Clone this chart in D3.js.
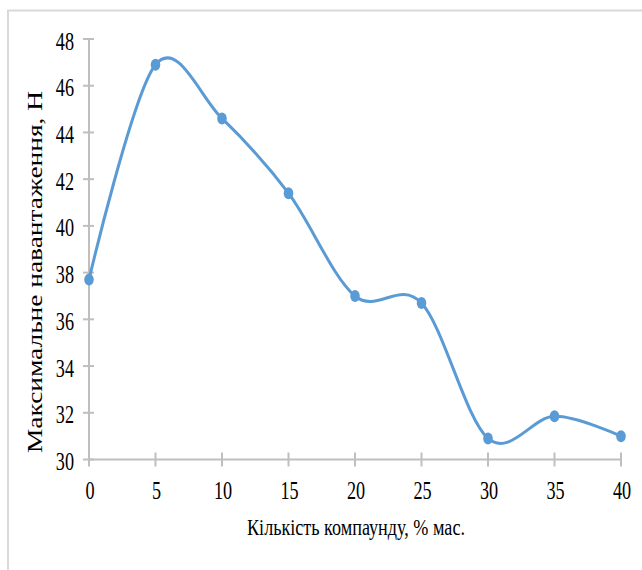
<!DOCTYPE html>
<html>
<head>
<meta charset="utf-8">
<script src="https://cdn.jsdelivr.net/npm/d3@7"></script>
<style>
html,body{margin:0;padding:0;background:#fff;}
svg{display:block;}
text{font-family:"Liberation Serif","Times New Roman",serif;fill:#000;}
</style>
</head>
<body>
<svg id="chart" width="642" height="570"></svg>
<script>
const xValues = [0, 5, 10, 15, 20, 25, 30, 35, 40];
const yValues = [37.7, 46.9, 44.6, 41.4, 37.0, 36.7, 30.9, 31.85, 31.0];
const xTicks = [0, 5, 10, 15, 20, 25, 30, 35, 40];
const yTicks = [30, 32, 34, 36, 38, 40, 42, 44, 46, 48];
const xTitle = "Кількість компаунду, % мас.";
const yTitle = "Максимальне навантаження, Н";

const svg = d3.select("#chart");
const x = d3.scaleLinear().domain([0, 40]).range([89, 621]);
const y = d3.scaleLinear().domain([30, 48]).range([459.5, 39]);
const axisColor = "#BFBFBF";
const lineColor = "#5B9BD5";
const FONT = "Liberation Serif";

// outer frame
svg.append("rect").attr("x", 8).attr("y", 10.5).attr("width", 700).attr("height", 700)
  .attr("fill", "none").attr("stroke", "#D9D9D9").attr("stroke-width", 2);

// Y axis
const yAxis = svg.append("g");
yAxis.append("line").attr("x1", x(0)).attr("x2", x(0)).attr("y1", y(30)).attr("y2", y(48))
  .attr("stroke", axisColor).attr("stroke-width", 2);
yAxis.selectAll("line.t").data(yTicks).join("line").attr("class", "t")
  .attr("x1", x(0) - 6).attr("x2", x(0) + 5)
  .attr("y1", d => y(d)).attr("y2", d => y(d))
  .attr("stroke", axisColor).attr("stroke-width", 2);
yAxis.selectAll("text").data(yTicks).join("text")
  .attr("transform", d => `translate(74,${y(d) + 10.5}) scale(0.7,1)`)
  .attr("text-anchor", "end").attr("font-size", 26).attr("font-family", FONT)
  .text(d => d);

// X axis
const xAxis = svg.append("g");
xAxis.append("line").attr("x1", x(0)).attr("x2", x(40)).attr("y1", y(30)).attr("y2", y(30))
  .attr("stroke", axisColor).attr("stroke-width", 2);
xAxis.selectAll("line.t").data(xTicks).join("line").attr("class", "t")
  .attr("x1", d => x(d)).attr("x2", d => x(d))
  .attr("y1", y(30) - 7).attr("y2", y(30) + 7)
  .attr("stroke", axisColor).attr("stroke-width", 2);
xAxis.selectAll("text").data(xTicks).join("text")
  .attr("transform", d => `translate(${x(d) + 1},499) scale(0.7,1)`)
  .attr("text-anchor", "middle").attr("font-size", 26).attr("font-family", FONT)
  .text(d => d);

// titles
svg.append("text").attr("x", 356).attr("y", 535)
  .attr("text-anchor", "middle").attr("font-size", 24).attr("font-family", FONT)
  .attr("textLength", 218).attr("lengthAdjust", "spacingAndGlyphs")
  .text(xTitle);
svg.append("text").attr("transform", "translate(42,272) rotate(-90) scale(1,0.85)")
  .attr("text-anchor", "middle").attr("font-size", 24).attr("font-family", FONT)
  .attr("textLength", 362).attr("lengthAdjust", "spacingAndGlyphs")
  .text(yTitle);

// line
const data = xValues.map((v, i) => [v, yValues[i]]);
const line = d3.line().x(d => x(d[0])).y(d => y(d[1])).curve(d3.curveCardinal.tension(0));
svg.append("path").datum(data).attr("d", line)
  .attr("fill", "none").attr("stroke", lineColor).attr("stroke-width", 3)
  .attr("stroke-linejoin", "round").attr("stroke-linecap", "round");
svg.selectAll("ellipse.pt").data(data).join("ellipse").attr("class", "pt")
  .attr("cx", d => x(d[0])).attr("cy", d => y(d[1]))
  .attr("rx", 4.8).attr("ry", 6).attr("fill", lineColor);
</script>
</body>
</html>
